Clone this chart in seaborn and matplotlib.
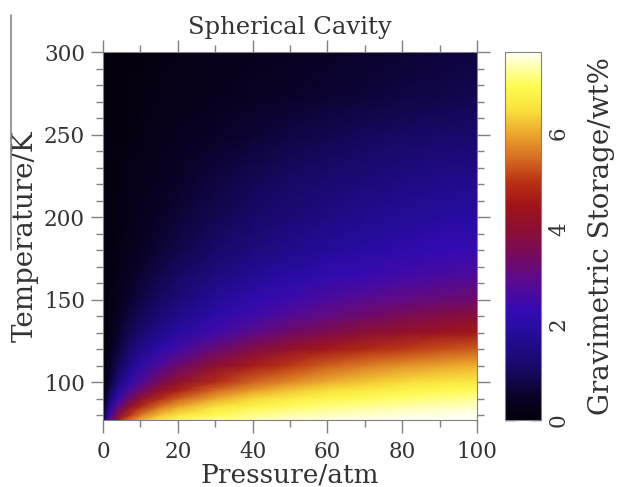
import numpy as np
import matplotlib
matplotlib.use("Agg")
import matplotlib.pyplot as plt
import seaborn as sns
from matplotlib.colors import LinearSegmentedColormap
from matplotlib.ticker import MultipleLocator
from matplotlib.lines import Line2D

# ---- data ----
pressure = [0, 1, 2, 4, 7, 10, 15, 20, 30, 40, 50, 60, 70, 80, 90, 100]          # atm
temperature = [77, 80, 85, 90, 95, 100, 110, 120, 130, 140, 150, 165, 180, 200,
               225, 250, 275, 300]                                                 # K

# gravimetric storage (wt%) at each temperature, one value per pressure
storage_077 = [0, 1.90, 3.07, 4.43, 5.48, 6.05, 6.59, 6.89, 7.23, 7.40, 7.52, 7.59, 7.65, 7.69, 7.72, 7.75]
storage_080 = [0, 1.51, 2.54, 3.85, 4.95, 5.59, 6.21, 6.58, 6.99, 7.22, 7.37, 7.46, 7.54, 7.59, 7.63, 7.67]
storage_085 = [0, 1.04, 1.84, 2.99, 4.09, 4.79, 5.53, 5.99, 6.54, 6.85, 7.05, 7.20, 7.30, 7.38, 7.45, 7.50]
storage_090 = [0, 0.73, 1.34, 2.30, 3.31, 4.02, 4.82, 5.35, 6.01, 6.41, 6.68, 6.86, 7.01, 7.12, 7.21, 7.28]
storage_095 = [0, 0.53, 0.99, 1.77, 2.66, 3.32, 4.13, 4.69, 5.44, 5.92, 6.24, 6.48, 6.66, 6.80, 6.92, 7.01]
storage_100 = [0, 0.39, 0.75, 1.37, 2.13, 2.73, 3.50, 4.07, 4.87, 5.39, 5.77, 6.05, 6.27, 6.44, 6.59, 6.70]
storage_110 = [0, 0.25, 0.50, 0.97, 1.55, 2.05, 2.72, 3.25, 4.05, 4.62, 5.05, 5.38, 5.62, 5.82, 5.97, 6.08]
storage_120 = [0, 0.17, 0.35, 0.70, 1.15, 1.55, 2.08, 2.50, 3.20, 3.75, 4.20, 4.55, 4.82, 5.05, 5.22, 5.35]
storage_130 = [0, 0.12, 0.26, 0.52, 0.88, 1.18, 1.60, 1.95, 2.50, 2.95, 3.35, 3.68, 3.95, 4.18, 4.38, 4.55]
storage_140 = [0, 0.10, 0.21, 0.42, 0.70, 0.95, 1.32, 1.62, 2.10, 2.48, 2.80, 3.08, 3.33, 3.55, 3.74, 3.92]
storage_150 = [0, 0.08, 0.17, 0.33, 0.56, 0.76, 1.08, 1.35, 1.80, 2.15, 2.45, 2.70, 2.90, 3.06, 3.18, 3.28]
storage_165 = [0, 0.06, 0.13, 0.25, 0.42, 0.58, 0.83, 1.06, 1.43, 1.73, 1.98, 2.19, 2.37, 2.52, 2.63, 2.72]
storage_180 = [0, 0.05, 0.10, 0.19, 0.33, 0.45, 0.65, 0.84, 1.15, 1.40, 1.62, 1.81, 1.98, 2.13, 2.26, 2.36]
storage_200 = [0, 0.04, 0.08, 0.15, 0.25, 0.34, 0.50, 0.65, 0.90, 1.12, 1.32, 1.49, 1.64, 1.77, 1.88, 1.96]
storage_225 = [0, 0.03, 0.06, 0.11, 0.19, 0.26, 0.38, 0.50, 0.70, 0.88, 1.04, 1.18, 1.31, 1.42, 1.52, 1.58]
storage_250 = [0, 0.02, 0.04, 0.07, 0.12, 0.17, 0.26, 0.34, 0.49, 0.63, 0.76, 0.87, 0.97, 1.06, 1.14, 1.20]
storage_275 = [0, 0.01, 0.02, 0.04, 0.07, 0.11, 0.16, 0.21, 0.31, 0.41, 0.50, 0.58, 0.66, 0.74, 0.81, 0.88]
storage_300 = [0, 0.01, 0.02, 0.04, 0.06, 0.09, 0.13, 0.17, 0.25, 0.33, 0.41, 0.48, 0.55, 0.62, 0.68, 0.74]

x_ticks = [0, 20, 40, 60, 80, 100]
y_ticks = [100, 150, 200, 250, 300]
cbar_ticks = [0, 2, 4, 6]

storage = np.array([storage_077, storage_080, storage_085, storage_090, storage_095,
                    storage_100, storage_110, storage_120, storage_130, storage_140,
                    storage_150, storage_165, storage_180, storage_200, storage_225,
                    storage_250, storage_275, storage_300])

# ---- colour map sampled from the colour bar ----
vmax = 7.7
stops = [
    (0.0, (4, 0, 12)),
    (0.5, (10, 2, 40)),
    (1.0, (22, 8, 95)),
    (1.5, (32, 10, 132)),
    (2.0, (42, 12, 165)),
    (2.3, (52, 10, 182)),
    (3.0, (95, 10, 135)),
    (3.5, (120, 10, 90)),
    (4.0, (140, 15, 50)),
    (4.5, (160, 20, 25)),
    (5.0, (185, 50, 20)),
    (5.5, (215, 110, 35)),
    (6.0, (235, 165, 45)),
    (6.5, (250, 225, 60)),
    (7.0, (255, 252, 80)),
    (7.4, (255, 255, 170)),
    (7.7, (255, 255, 245)),
]
cmap = LinearSegmentedColormap.from_list(
    "storage", [(v / vmax, tuple(c / 255 for c in rgb)) for v, rgb in stops])

sns.set_style("ticks")
plt.rcParams['font.family'] = ['DejaVu Serif']
text_color = "#333333"
tick_gray = "#808080"

fig = plt.figure(figsize=(6.17, 4.87), dpi=100)
ax = fig.add_axes([0.167, 0.1376, 0.606, 0.755])
cax = fig.add_axes([0.8185, 0.1376, 0.0583, 0.755])

mesh = ax.pcolormesh(pressure, temperature, storage, shading="gouraud",
                     cmap=cmap, vmin=0, vmax=vmax, rasterized=True)
ax.set_xlim(0, 100)
ax.set_ylim(77, 300)
ax.set_xticks(x_ticks)
ax.set_yticks(y_ticks)
ax.xaxis.set_minor_locator(MultipleLocator(10))
ax.yaxis.set_minor_locator(MultipleLocator(10))
ax.tick_params(which="both", direction="out", top=True, right=True,
               labeltop=False, labelright=False, color=tick_gray, width=1,
               labelsize=15.5, labelcolor=text_color)
ax.tick_params(which="major", length=9)
ax.tick_params(which="minor", length=5)
ax.tick_params(axis="x", which="major", pad=6)
ax.tick_params(axis="y", which="major", pad=4)
for s in ax.spines.values():
    s.set_color(tick_gray)
    s.set_linewidth(0.8)

ax.set_xlabel("Pressure/atm", fontsize=19, color=text_color, labelpad=0)
ax.set_ylabel("Temperature/K", fontsize=20, color=text_color, labelpad=4)
ax.set_title("Spherical Cavity", fontsize=17.5, color=text_color, pad=13)

cb = fig.colorbar(mesh, cax=cax)
cb.set_ticks(cbar_ticks)
cb.ax.yaxis.set_minor_locator(MultipleLocator(1))
cb.outline.set_edgecolor(tick_gray)
cb.outline.set_linewidth(0.8)
cax.tick_params(which="both", direction="in", left=True, right=True,
                color="#333333", width=1, labelsize=15.5, labelcolor=text_color, pad=5)
cax.tick_params(which="major", length=7)
cax.tick_params(which="minor", length=5)
for lab in cax.get_yticklabels():
    lab.set_rotation(90)
    lab.set_va("center")
cb.set_label("Gravimetric Storage/wt%", fontsize=20, color=text_color, labelpad=13)

# stray vertical rule at the left edge of the original figure
fig.add_artist(Line2D([0.018, 0.018], [1 - 15 / 487, 1 - 250 / 487],
                      transform=fig.transFigure, color="#888888", lw=1.2))

fig.savefig("out.png", dpi=100)
